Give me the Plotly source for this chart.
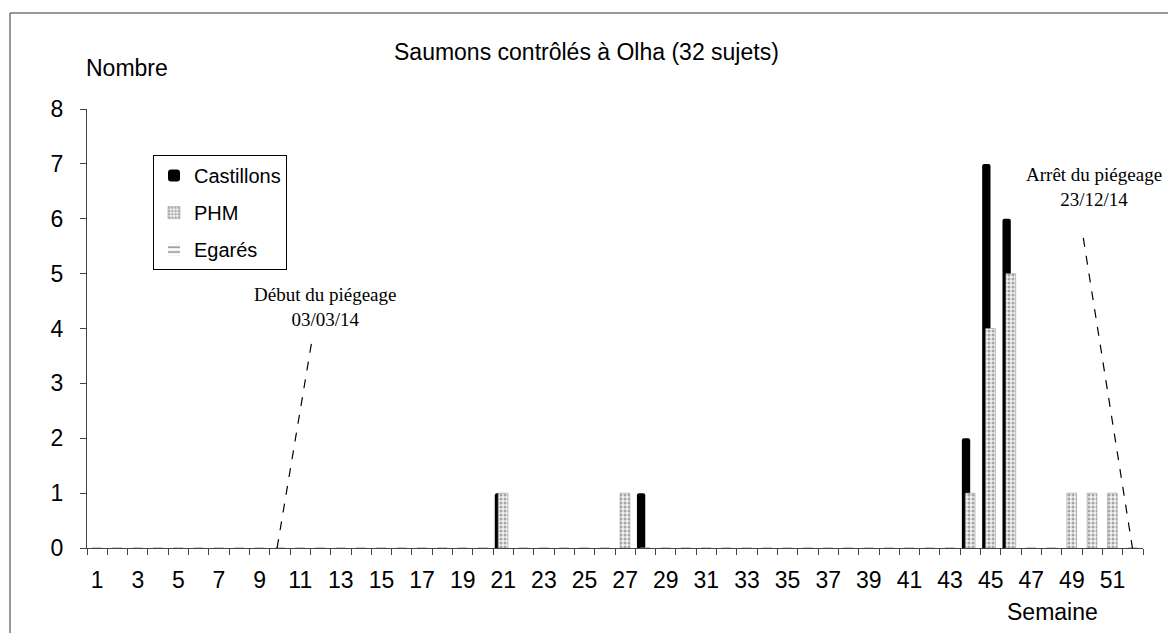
import plotly.graph_objects as go

# weekly counts, weeks 1..52
weeks = list(range(1, 53))
castillons = [0, 0, 0, 0, 0, 0, 0, 0, 0, 0, 0, 0, 0, 0, 0, 0, 0, 0, 0, 0,
              1, 0, 0, 0, 0, 0, 0, 1, 0, 0, 0, 0, 0, 0, 0, 0, 0, 0, 0, 0,
              0, 0, 0, 2, 7, 6, 0, 0, 0, 0, 0, 0]
phm = [0, 0, 0, 0, 0, 0, 0, 0, 0, 0, 0, 0, 0, 0, 0, 0, 0, 0, 0, 0,
       1, 0, 0, 0, 0, 0, 1, 0, 0, 0, 0, 0, 0, 0, 0, 0, 0, 0, 0, 0,
       0, 0, 0, 1, 4, 5, 0, 0, 1, 1, 1, 0]
egares = [0, 0, 0, 0, 0, 0, 0, 0, 0, 0, 0, 0, 0, 0, 0, 0, 0, 0, 0, 0,
          0, 0, 0, 0, 0, 0, 0, 0, 0, 0, 0, 0, 0, 0, 0, 0, 0, 0, 0, 0,
          0, 0, 0, 0, 0, 0, 0, 0, 0, 0, 0, 0]
tick_labels = [str(w) for w in range(1, 53, 2)]

# dashed pointer lines for the two trapping notes (week, count)
debut_line = [(9.86, 0.0), (11.58, 3.79)]
arret_line = [(49.56, 5.65), (51.98, 0.0)]

font_sans = "Liberation Sans, Arial, sans-serif"
font_serif = "Liberation Serif, Times New Roman, serif"
axis_col = "#444"

fig = go.Figure()

fig.add_trace(go.Bar(
    x=weeks, y=castillons, name="Castillons",
    offset=-0.42, width=0.41,
    marker=dict(color="black", line=dict(width=0), cornerradius=2),
    legendgroup="a",
))
fig.add_trace(go.Bar(
    x=weeks, y=phm, name="PHM",
    offset=-0.25, width=0.48,
    marker=dict(color="white", line=dict(width=0.6, color="#999"),
                pattern=dict(shape=".", fgcolor="#555", bgcolor="#f2f2f2",
                             size=4, solidity=0.45)),
    legendgroup="b",
))
fig.add_trace(go.Bar(
    x=weeks, y=egares, name="Egarés",
    offset=-0.05, width=0.4,
    marker=dict(color="white", line=dict(width=0),
                pattern=dict(shape="-", fgcolor="black", bgcolor="white",
                             size=6, solidity=0.3)),
    legendgroup="c",
))

fig.update_layout(
    width=1176, height=633,
    margin=dict(l=79, r=41, t=101, b=93),
    paper_bgcolor="white", plot_bgcolor="white",
    barmode="overlay",
    font=dict(family=font_sans, size=23, color="black"),
    showlegend=True,
    legend=dict(x=0.0625, y=0.895, xanchor="left", yanchor="top",
                bordercolor="black", borderwidth=1, bgcolor="white",
                font=dict(size=20), traceorder="grouped", tracegroupgap=8,
                itemwidth=30),
    xaxis=dict(range=[0.5, 52.5], tickmode="array",
               tickvals=list(range(1, 53, 2)), ticktext=tick_labels,
               ticks="outside", ticklen=8, tickcolor="rgba(0,0,0,0)",
               ticklabelstandoff=3,
               showline=True, linecolor=axis_col, linewidth=1,
               showgrid=False, zeroline=False,
               minor=dict(tickmode="array",
                          tickvals=[w - 0.5 for w in weeks] + [52.5],
                          ticks="outside", ticklen=6, tickcolor=axis_col,
                          showgrid=False)),
    yaxis=dict(range=[0, 8], dtick=1, ticks="outside", ticklen=6,
               tickcolor=axis_col, showline=True, linecolor=axis_col,
               linewidth=1, showgrid=False, zeroline=False,
               ticklabelstandoff=12),
)

for pts in (debut_line, arret_line):
    fig.add_shape(type="line", xref="x", yref="y",
                  x0=pts[0][0], y0=pts[0][1], x1=pts[1][0], y1=pts[1][1],
                  line=dict(color="black", width=1.2, dash="dash"))

# outer chart border
fig.add_shape(type="rect", xref="paper", yref="paper",
              x0=-0.0729, y0=-0.3, x1=1.2, y1=1.2187,
              line=dict(color="#333", width=1), layer="below")

fig.add_annotation(text="Saumons contrôlés à Olha (32 sujets)",
                   xref="paper", yref="paper", x=0.473, y=1.13,
                   xanchor="center", yanchor="middle",
                   showarrow=False, font=dict(size=23))
fig.add_annotation(text="Nombre", xref="paper", yref="paper",
                   x=0.038, y=1.093, xanchor="center", yanchor="middle",
                   showarrow=False, font=dict(size=23))
fig.add_annotation(text="Semaine", xref="paper", yref="paper",
                   x=0.914, y=-0.146, xanchor="center", yanchor="middle",
                   showarrow=False, font=dict(size=23))
fig.add_annotation(text="Début du piégeage<br>03/03/14",
                   xref="paper", yref="paper", x=0.225, y=0.549,
                   xanchor="center", yanchor="middle",
                   showarrow=False, font=dict(family=font_serif, size=19))
fig.add_annotation(text="Arrêt du piégeage<br>23/12/14",
                   xref="paper", yref="paper", x=0.954, y=0.822,
                   xanchor="center", yanchor="middle",
                   showarrow=False, font=dict(family=font_serif, size=19))

fig.write_html("out.html")
